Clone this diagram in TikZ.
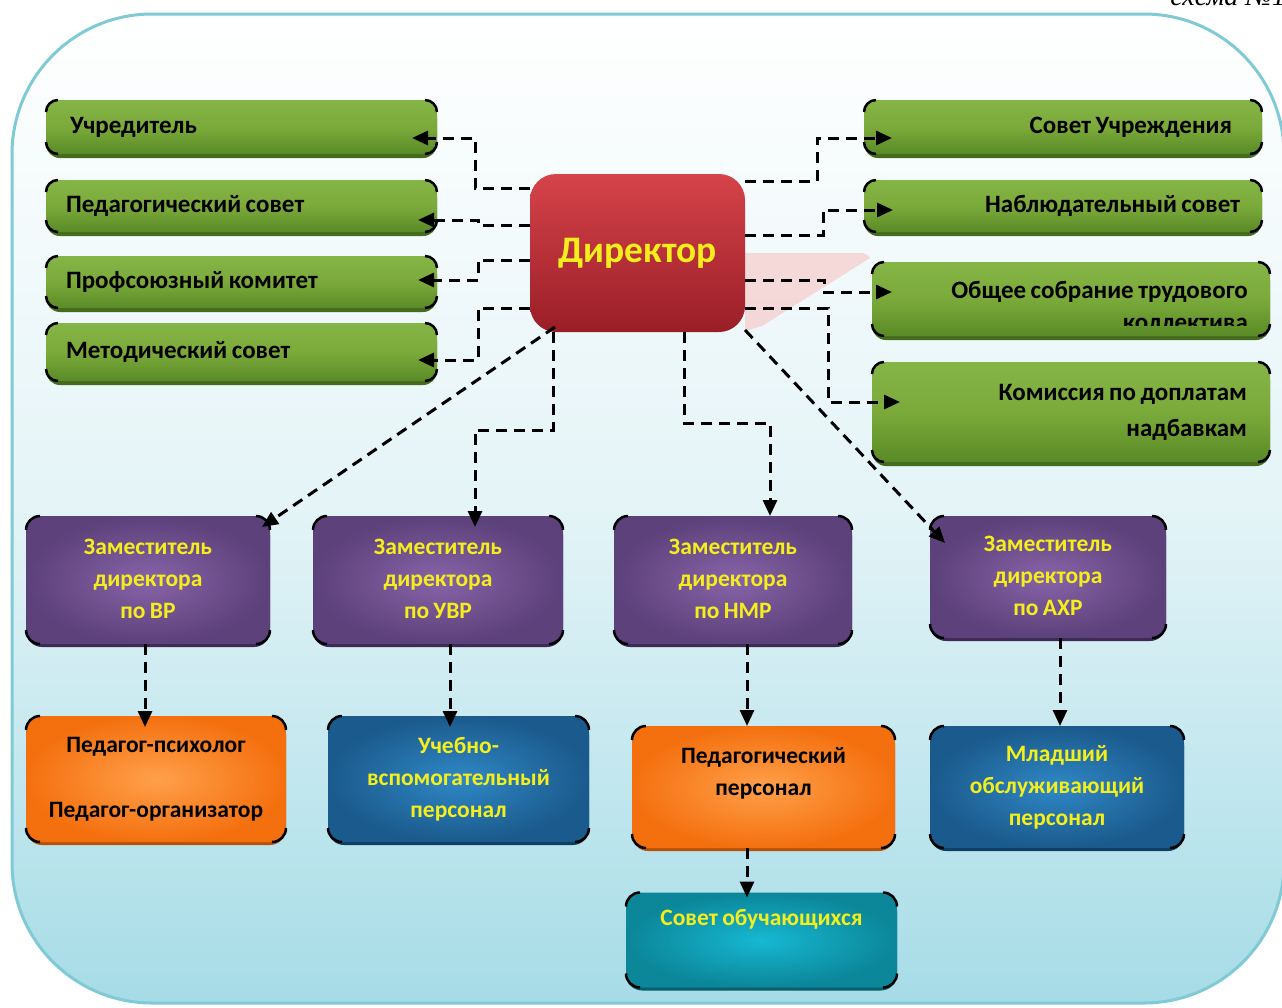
\documentclass[tikz,border=0pt]{standalone}
\usepackage{fontspec}
\setmainfont{Carlito}[WordSpace=0.8]
\newfontfamily\schemafont{Liberation Serif}
\usetikzlibrary{arrows.meta,shadows}
\definecolor{bgLine}{HTML}{7FCAD5}
\definecolor{bgMid}{HTML}{E4F4F7}
\definecolor{bgBot}{HTML}{A6DCE7}
\definecolor{gTop}{HTML}{86B547}
\definecolor{gMid}{HTML}{7BAA3B}
\definecolor{gBot}{HTML}{5A8A26}
\definecolor{gShd}{HTML}{456B1D}
\definecolor{pIn}{HTML}{8863A8}
\definecolor{pOut}{HTML}{5C417A}
\definecolor{pShd}{HTML}{3E2A55}
\definecolor{oIn}{HTML}{FFA04A}
\definecolor{oOut}{HTML}{F4700F}
\definecolor{oShd}{HTML}{B65308}
\definecolor{bIn}{HTML}{2F88C6}
\definecolor{bOut}{HTML}{1B5A8C}
\definecolor{bShd}{HTML}{0F3D63}
\definecolor{tIn}{HTML}{16B8D2}
\definecolor{tOut}{HTML}{0C8699}
\definecolor{tShd}{HTML}{085F6C}
\definecolor{dTop}{HTML}{D6434A}
\definecolor{dBot}{HTML}{9A1E27}
\definecolor{ylw}{HTML}{F4EE1C}
\definecolor{pinkish}{HTML}{F6D3D3}

\newcommand\boxcorners[2]{%
  \draw[cornermark] ([yshift=-#2]#1.north west) arc[start angle=180,end angle=90,radius=#2];
  \draw[cornermark] ([xshift=-#2]#1.north east) arc[start angle=90,end angle=0,radius=#2];
  \draw[cornermark] ([yshift=#2]#1.south east) arc[start angle=0,end angle=-90,radius=#2];
  \draw[cornermark] ([xshift=#2]#1.south west) arc[start angle=270,end angle=180,radius=#2];
}

\begin{document}
\begin{tikzpicture}[x=1pt,y=-1pt,
  box/.style={rectangle, rounded corners=14pt, inner sep=0pt, outer sep=0pt},
  gfont/.style={font=\bfseries\fontsize{25}{31}\selectfont},
  gbox/.style={box, top color=gTop, bottom color=gBot, middle color=gMid,
    general shadow={fill=gShd, shadow yshift=-4pt}, gfont, text=black},
  sfont/.style={font=\bfseries\fontsize{23.5}{32}\selectfont},
  pbox/.style={box, rounded corners=16pt, inner color=pIn, outer color=pOut,
    general shadow={fill=pShd, shadow yshift=-3pt},
    text=ylw, align=center, sfont},
  obox/.style={box, rounded corners=16pt, inner color=oIn, outer color=oOut,
    general shadow={fill=oShd, shadow yshift=-3pt},
    text=black, align=center, sfont},
  bbox/.style={box, rounded corners=16pt, inner color=bIn, outer color=bOut,
    general shadow={fill=bShd, shadow yshift=-3pt},
    text=ylw, align=center, sfont},
  tbox/.style={box, rounded corners=16pt, inner color=tIn, outer color=tOut,
    general shadow={fill=tShd, shadow yshift=-3pt},
    text=ylw, align=center, sfont},
  dbox/.style={box, rounded corners=26pt, top color=dTop, bottom color=dBot,
    text=ylw, font=\bfseries\fontsize{37.5}{40}\selectfont},
  cornermark/.style={draw=black, line width=2.5pt},
  conn/.style={draw=black, line width=3pt, dash pattern=on 11pt off 7pt,
    -{Triangle[length=16pt,width=14pt]}}
]
\useasboundingbox (0,0) rectangle (1282,1007);

% background panel
\path[draw=bgLine, line width=3pt, rounded corners=140pt,
  top color=white, bottom color=bgBot, middle color=bgMid]
  (12,14) rectangle (1284,1003);

\node[font=\schemafont\itshape\fontsize{28}{30}\selectfont, anchor=base east, inner sep=0pt]
  (schema) at (1286,5) {схема №1};

% pink translucent band
\fill[pinkish, opacity=0.85] (745,253) -- (860,253) to[out=0,in=120] (870,258)
  -- (762,326) -- (745,331) -- cycle;

% director
\node[dbox, minimum width=215pt, minimum height=158pt] (dir) at (637.5,253) {Директор};

% left green boxes
\node[gbox, minimum width=391pt, minimum height=54pt]
  (uch) at (241.5,127) {\makebox[343pt][l]{Учредитель}};
\node[gbox, minimum width=391pt, minimum height=52pt]
  (ped) at (241.5,206) {\makebox[351pt][l]{Педагогический совет}};
\node[gbox, minimum width=391pt, minimum height=52pt]
  (prof) at (241.5,282) {\makebox[351pt][l]{Профсоюзный комитет}};
\node[gbox, minimum width=391pt, minimum height=58pt]
  (met) at (241.5,352) {\makebox[351pt][l]{Методический совет}};

% right green boxes
\node[gbox, minimum width=398pt, minimum height=54pt]
  (sovu) at (1063,127) {\makebox[338pt][r]{Совет Учреждения}};
\node[gbox, minimum width=398pt, minimum height=52pt]
  (nabl) at (1063,206) {\makebox[354pt][r]{Наблюдательный совет}};
\node[gbox, minimum width=398pt, minimum height=74pt] (obsh) at (1071,299) {};
\begin{scope}
  \clip (obsh.north west) rectangle ([yshift=11pt]obsh.south east);
  \node[gfont, anchor=base east, inner sep=0pt]
    (obshtxt) at (1248,298) {Общее собрание трудового};
  \node[gfont, anchor=base east, inner sep=0pt]
    (obshtxt2) at (1248,330) {коллектива};
\end{scope}
\node[gbox, minimum width=398pt, minimum height=100pt, align=center]
  (kom) at (1071,412) {\makebox[352pt][r]{Комиссия по доплатам}\\[5pt]\makebox[352pt][r]{надбавкам}};

% deputies
\node[pbox, minimum width=244pt, minimum height=128pt] (vr) at (148,580)
  {\raisebox{3pt}{Заместитель}\\\raisebox{3pt}{директора}\\\raisebox{3pt}{по ВР}};
\node[pbox, minimum width=250pt, minimum height=128pt] (uvr) at (438,580)
  {\raisebox{3pt}{Заместитель}\\\raisebox{3pt}{директора}\\\raisebox{3pt}{по УВР}};
\node[pbox, minimum width=238pt, minimum height=128pt] (nmr) at (733,580)
  {\raisebox{3pt}{Заместитель}\\\raisebox{3pt}{директора}\\\raisebox{3pt}{по НМР}};
\node[pbox, minimum width=236pt, minimum height=122pt] (ahr) at (1048,577)
  {\raisebox{3pt}{Заместитель}\\\raisebox{3pt}{директора}\\\raisebox{3pt}{по АХР}};

% staff
\node[obox, minimum width=260pt, minimum height=126pt] (o1) at (156,779)
  {Педагог-психолог\\[33pt]Педагог-организатор};
\node[bbox, minimum width=261pt, minimum height=126pt] (b1) at (458.5,779)
  {Учебно-\\вспомогательный\\персонал};
\node[obox, minimum width=263pt, minimum height=122pt] (o2) at (763.5,787)
  {Педагогический\\персонал\\~};
\node[bbox, minimum width=254pt, minimum height=122pt] (b2) at (1057,787)
  {Младший\\обслуживающий\\персонал};
\node[tbox, minimum width=271pt, minimum height=95pt] (teal) at (761.5,940)
  {\raisebox{15pt}[0pt][0pt]{Совет обучающихся}};

% corner marks
\boxcorners{uch}{12pt}
\boxcorners{ped}{12pt}
\boxcorners{prof}{12pt}
\boxcorners{met}{12pt}
\boxcorners{sovu}{12pt}
\boxcorners{nabl}{12pt}
\boxcorners{obsh}{12pt}
\boxcorners{kom}{12pt}
\boxcorners{vr}{14pt}
\boxcorners{uvr}{14pt}
\boxcorners{nmr}{14pt}
\boxcorners{ahr}{14pt}
\boxcorners{o1}{14pt}
\boxcorners{b1}{14pt}
\boxcorners{o2}{14pt}
\boxcorners{b2}{14pt}
\boxcorners{teal}{14pt}

% connectors: left
\draw[conn, shorten >=-25pt] (dir.west |- 0,188) -- (475,188) -- (475,138) -- (uch.east |- 0,138);
\draw[conn, shorten >=-19pt] (dir.west |- 0,225) -- (478,225) -- (478,220) -- (ped.east |- 0,220);
\draw[conn, shorten >=-19pt] (dir.west |- 0,260) -- (478,260) -- (478,280) -- (prof.east |- 0,280);
\draw[conn, shorten >=-19pt] (dir.west |- 0,308) -- (478,308) -- (478,360) -- (met.east |- 0,360);
% connectors: right
\draw[conn, shorten >=-28pt] (dir.east |- 0,181) -- (817,181) -- (817,138) -- (sovu.west |- 0,138);
\draw[conn, shorten >=-29pt] (dir.east |- 0,235) -- (823,235) -- (823,210) -- (nabl.west |- 0,210);
\draw[conn, shorten >=-20pt] (dir.east |- 0,280) -- (824,280) -- (824,292) -- (obsh.west |- 0,292);
\draw[conn, shorten >=-28pt] (dir.east |- 0,308) -- (828,308) -- (828,402) -- (kom.west |- 0,402);
% connectors: down
\draw[conn] ([xshift=25pt,yshift=5pt]dir.south west) -- ([xshift=-8pt,yshift=-11pt]vr.north east);
\draw[conn, shorten >=-11pt] (dir.south -| 553,0) -- (553,430) -- (475,430) -- (uvr.north -| 475,0);
\draw[conn] (dir.south -| 684,0) -- (684,423) -- (770,423) -- (nmr.north -| 770,0);
\draw[conn] ([yshift=2pt]dir.south east) -- ([xshift=15pt,yshift=-27pt]ahr.north west);
\draw[conn, shorten >=-11pt] (vr.south -| 145,0) -- (o1.north -| 145,0);
\draw[conn, shorten >=-11pt] (uvr.south -| 450,0) -- (b1.north -| 450,0);
\draw[conn] (nmr.south -| 747,0) -- (o2.north -| 747,0);
\draw[conn] (ahr.south -| 1060,0) -- (b2.north -| 1060,0);
\draw[conn, shorten >=-5pt] (o2.south -| 747,0) -- (teal.north -| 747,0);
\end{tikzpicture}
\end{document}
